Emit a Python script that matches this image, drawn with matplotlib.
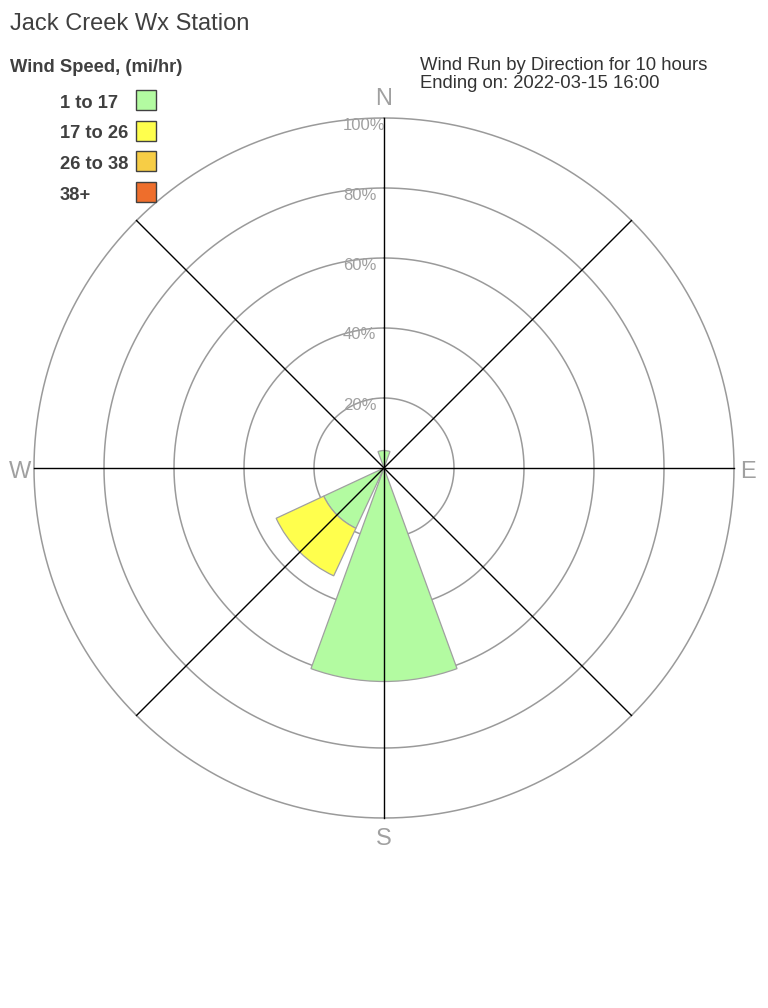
import numpy as np
import matplotlib
matplotlib.use("Agg")
import matplotlib.pyplot as plt

plt.rcParams['font.family'] = ['Liberation Sans', 'DejaVu Sans']

# ---- data ----
directions = ["N", "NE", "E", "SE", "S", "SW", "W", "NW"]
dir_deg = [0, 45, 90, 135, 180, 225, 270, 315]
speed_bins = ["1 to 17", "17 to 26", "26 to 38", "38+"]
bin_colors = ["#b3fba1", "#ffff4d", "#f7cd45", "#ee6e2c"]
pct_1_17 = [5, 0, 0, 0, 61, 19, 0, 0]
pct_17_26 = [0, 0, 0, 0, 0, 15, 0, 0]
pct_26_38 = [0, 0, 0, 0, 0, 0, 0, 0]
pct_38p = [0, 0, 0, 0, 0, 0, 0, 0]
ring_vals = [20, 40, 60, 80, 100]
ring_labels = ["20%", "40%", "60%", "80%", "100%"]
compass = ["N", "E", "S", "W"]

W, H = 768, 1008
fig = plt.figure(figsize=(W / 100, H / 100), dpi=100)

cx, cy, R = 384, 468, 350
ax = fig.add_axes([(cx - R) / W, (H - cy - R) / H, 2 * R / W, 2 * R / H],
                  projection='polar')
ax.set_theta_zero_location('N')
ax.set_theta_direction(-1)
ax.set_ylim(0, 100)
ax.grid(False)
ax.set_xticks([])
ax.set_yticks([])
ax.spines['polar'].set_visible(False)
ax.patch.set_alpha(0)

# rings
tt = np.linspace(0, 2 * np.pi, 721)
for rv in ring_vals:
    ax.plot(tt, np.full_like(tt, rv), color='#9a9a9a', lw=1.1, zorder=1, clip_on=False)

# bars
theta = np.deg2rad(dir_deg)
width = np.deg2rad(40)
bottom = np.zeros(len(dir_deg))
for vals, col in zip([pct_1_17, pct_17_26, pct_26_38, pct_38p], bin_colors):
    v = np.array(vals, dtype=float)
    mask = v > 0
    if mask.any():
        ax.bar(theta[mask], v[mask], width=width, bottom=bottom[mask], color=col,
               edgecolor='#a0a0a0', linewidth=0.9, zorder=2)
    bottom += v

# spokes
for d in dir_deg:
    ax.plot([np.deg2rad(d), np.deg2rad(d)], [0, 100], color='black', lw=1.0,
            zorder=3, clip_on=False)

# ring labels
for rv, lab in zip(ring_vals, ring_labels):
    y = cy - rv / 100 * R + 7
    fig.text(343 / W, 1 - y / H, lab, ha='left', va='center', fontsize=12,
             color='#a0a0a0')

# compass labels
comp_pos = {"N": (384, 99), "E": (748, 472), "S": (384, 839), "W": (20, 472)}
for c in compass:
    x, y = comp_pos[c]
    fig.text(x / W, 1 - y / H, c, ha='center', va='center', fontsize=17,
             color='#a0a0a0')

# titles
fig.text(10 / W, 1 - 24 / H, "Jack Creek Wx Station", ha='left', va='center',
         fontsize=17, color='#404040')
fig.text(10 / W, 1 - 67 / H, "Wind Speed, (mi/hr)", ha='left', va='center',
         fontsize=13.2, color='#404040', fontweight='bold')
fig.text(420 / W, 1 - 65 / H, "Wind Run by Direction for 10 hours", ha='left',
         va='center', fontsize=13.3, color='#333333')
fig.text(420 / W, 1 - 84 / H, "Ending on: 2022-03-15 16:00", ha='left',
         va='center', fontsize=13.3, color='#333333')

# legend
for i, (lab, col) in enumerate(zip(speed_bins, bin_colors)):
    yc = 100 + i * 30.7
    fig.text(60 / W, 1 - (yc + 3) / H, lab, ha='left', va='center', fontsize=13.2,
             color='#404040', fontweight='bold')
    fig.add_artist(plt.Rectangle((135.5 / W, 1 - (yc + 10) / H), 20 / W, 20 / H,
                                 facecolor=col, edgecolor='#404040', lw=1.0,
                                 transform=fig.transFigure))

fig.savefig("out.png", dpi=100)
